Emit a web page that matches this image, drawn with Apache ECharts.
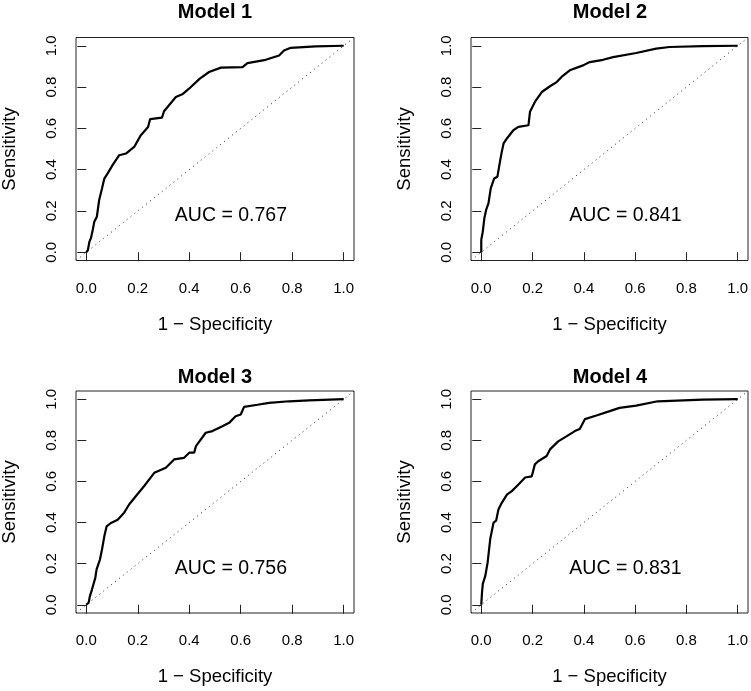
<!DOCTYPE html>
<html><head><meta charset="utf-8">
<script src="https://cdn.jsdelivr.net/npm/echarts@6/dist/echarts.min.js"></script>
<style>html,body{margin:0;padding:0;background:#fff}#c{width:751px;height:691px}</style>
</head><body><div id="c"></div>
<script>
// ---------- data ----------
const modelTitles = ['Model 1', 'Model 2', 'Model 3', 'Model 4'];
const aucLabels = ['AUC = 0.767', 'AUC = 0.841', 'AUC = 0.756', 'AUC = 0.831'];
const tickValues = [0, 0.2, 0.4, 0.6, 0.8, 1.0];
const xAxisTitle = '1 \u2212 Specificity';
const yAxisTitle = 'Sensitivity';
const aucTextPos = [0.562, 0.177];

const roc1 = [[0,0],[0.006,0.01],[0.012,0.05],[0.018,0.068],[0.025,0.108],[0.031,0.148],[0.041,0.172],
  [0.05,0.253],[0.061,0.309],[0.07,0.357],[0.083,0.382],[0.102,0.422],[0.128,0.47],[0.154,0.478],
  [0.186,0.51],[0.212,0.567],[0.24,0.607],[0.248,0.645],[0.294,0.652],[0.302,0.683],[0.348,0.752],
  [0.373,0.765],[0.399,0.792],[0.441,0.841],[0.477,0.873],[0.523,0.894],[0.607,0.897],[0.626,0.916],
  [0.697,0.932],[0.749,0.953],[0.768,0.977],[0.794,0.99],[0.891,0.997],[1,1]];
const roc2 = [[0,0],[0,0.06],[0.006,0.1],[0.012,0.164],[0.019,0.205],[0.028,0.237],[0.037,0.309],
  [0.05,0.357],[0.063,0.366],[0.074,0.446],[0.08,0.486],[0.087,0.527],[0.1,0.551],[0.125,0.591],
  [0.145,0.607],[0.184,0.615],[0.19,0.68],[0.209,0.728],[0.236,0.776],[0.268,0.804],[0.294,0.824],
  [0.313,0.849],[0.345,0.881],[0.397,0.905],[0.423,0.921],[0.475,0.932],[0.514,0.945],[0.604,0.965],
  [0.682,0.986],[0.734,0.994],[0.863,0.998],[1,1]];
const roc3 = [[0,0],[0.009,0.01],[0.014,0.042],[0.022,0.074],[0.035,0.131],[0.04,0.172],[0.053,0.22],
  [0.061,0.269],[0.07,0.333],[0.079,0.382],[0.096,0.398],[0.122,0.414],[0.147,0.448],[0.167,0.489],
  [0.193,0.529],[0.225,0.578],[0.264,0.642],[0.309,0.667],[0.341,0.707],[0.38,0.715],[0.4,0.74],
  [0.419,0.74],[0.426,0.772],[0.464,0.837],[0.49,0.845],[0.529,0.869],[0.555,0.885],[0.58,0.917],
  [0.6,0.926],[0.613,0.963],[0.665,0.973],[0.71,0.982],[0.788,0.99],[0.865,0.994],[1,1]];
const roc4 = [[0,0],[0.003,0.061],[0.006,0.102],[0.016,0.142],[0.025,0.207],[0.035,0.32],[0.048,0.4],
  [0.058,0.409],[0.067,0.464],[0.08,0.496],[0.1,0.536],[0.119,0.553],[0.145,0.585],[0.171,0.619],
  [0.197,0.625],[0.209,0.683],[0.222,0.698],[0.255,0.724],[0.268,0.756],[0.3,0.795],[0.332,0.819],
  [0.365,0.845],[0.384,0.855],[0.404,0.903],[0.449,0.921],[0.501,0.942],[0.539,0.958],[0.604,0.969],
  [0.688,0.99],[0.863,0.998],[1,1]];
const rocCurves = [roc1, roc2, roc3, roc4];

// ---------- layout ----------
const AX_MIN = -0.04, AX_MAX = 1.04;
const boxes = [
  {left: 76, top: 37.5, width: 278, height: 223},
  {left: 471, top: 37.5, width: 277, height: 223},
  {left: 76, top: 391, width: 278, height: 222},
  {left: 471, top: 391, width: 277, height: 222}
];
const titlePos = [[215, 12.2], [610, 12.2], [215, 377], [610, 377]];
const FONT = 'Liberation Sans, Arial, Helvetica, sans-serif';

const grid = [], xAxis = [], yAxis = [], series = [], graphic = [];
boxes.forEach((b, i) => {
  grid.push(Object.assign({show: true, borderColor: '#222', borderWidth: 1,
    backgroundColor: 'transparent', containLabel: false, outerBoundsMode: 'none'}, b));
  const common = {
    gridIndex: i, type: 'value', min: AX_MIN, max: AX_MAX,
    axisLine: {show: false},
    splitLine: {show: false},
    axisTick: {show: true, inside: false, length: 9, customValues: tickValues,
      lineStyle: {color: '#222', width: 1}},
    nameLocation: 'middle',
    nameTextStyle: {fontFamily: FONT, fontSize: 18.5, color: '#000'}
  };
  xAxis.push(Object.assign({}, common, {
    position: 'bottom', name: xAxisTitle, nameGap: 54.5,
    axisLabel: {show: true, customValues: tickValues, margin: 20.5, fontFamily: FONT,
      fontSize: 15, color: '#000', formatter: v => v.toFixed(1)}
  }));
  yAxis.push(Object.assign({}, common, {
    position: 'left', name: yAxisTitle, nameGap: 56.5,
    axisLabel: {show: true, customValues: tickValues, margin: 17, rotate: 90, fontFamily: FONT,
      fontSize: 15, color: '#000', formatter: v => v.toFixed(1)}
  }));
  series.push({
    type: 'line', xAxisIndex: i, yAxisIndex: i, silent: true, symbol: 'none',
    data: [[AX_MIN, AX_MIN], [AX_MAX, AX_MAX]],
    lineStyle: {color: '#222', width: 1, type: [1, 4]}, z: 2
  });
  series.push({
    type: 'line', xAxisIndex: i, yAxisIndex: i, silent: true, symbol: 'none',
    data: rocCurves[i],
    lineStyle: {color: '#000', width: 2.2}, z: 3
  });
  series.push({
    type: 'scatter', xAxisIndex: i, yAxisIndex: i, silent: true, symbolSize: 0,
    itemStyle: {color: '#000', opacity: 1},
    data: [aucTextPos],
    label: {show: true, position: 'inside', formatter: aucLabels[i], fontFamily: FONT,
      fontSize: 19.5, color: '#000', opacity: 1, textBorderWidth: 0}, z: 4
  });
  graphic.push({
    type: 'text', x: titlePos[i][0], y: titlePos[i][1],
    style: {text: modelTitles[i], fontFamily: FONT, fontSize: 20, fontWeight: 'bold',
      fill: '#000', align: 'center', verticalAlign: 'middle'}
  });
});

const chart = echarts.init(document.getElementById('c'), null, {renderer: 'canvas'});
chart.setOption({
  animation: false, backgroundColor: '#fff',
  grid, xAxis, yAxis, series, graphic
});
</script>
</body></html>
